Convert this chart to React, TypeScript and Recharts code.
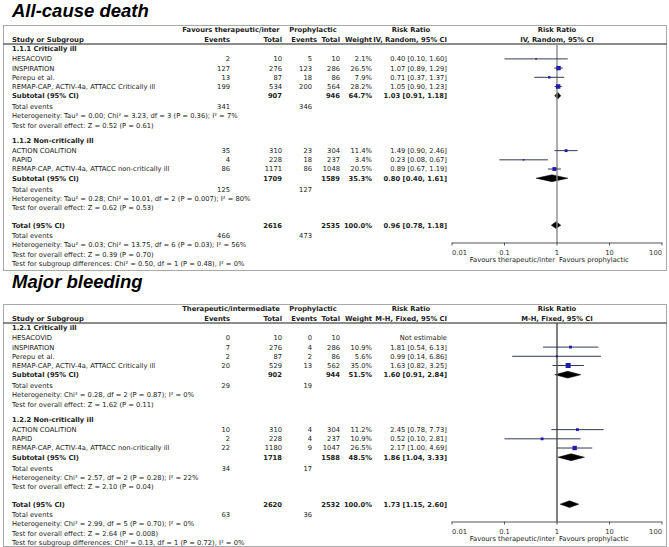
import React from "react";
import { ComposedChart, XAxis, YAxis, Scatter, ErrorBar, Area, ReferenceLine } from "recharts";

interface Study {
  name: string;
  e1: number;
  n1: number;
  e2: number;
  n2: number;
  weight: number | null;
  rr: number | null;
  lo: number | null;
  hi: number | null;
}

interface Pooled {
  n1: number;
  n2: number;
  weight: number;
  rr: number;
  lo: number;
  hi: number;
}

// ---- All-cause death ----
const deathGroupLabels = ["1.1.1 Critically ill", "1.1.2 Non-critically ill"];

const deathCritical: Study[] = [
  { name: "HESACOVID", e1: 2, n1: 10, e2: 5, n2: 10, weight: 2.1, rr: 0.4, lo: 0.1, hi: 1.6 },
  { name: "INSPIRATION", e1: 127, n1: 276, e2: 123, n2: 286, weight: 26.5, rr: 1.07, lo: 0.89, hi: 1.29 },
  { name: "Perepu et al.", e1: 13, n1: 87, e2: 18, n2: 86, weight: 7.9, rr: 0.71, lo: 0.37, hi: 1.37 },
  { name: "REMAP-CAP, ACTIV-4a, ATTACC Critically ill", e1: 199, n1: 534, e2: 200, n2: 564, weight: 28.2, rr: 1.05, lo: 0.9, hi: 1.23 },
];

const deathNonCritical: Study[] = [
  { name: "ACTION COALITION", e1: 35, n1: 310, e2: 23, n2: 304, weight: 11.4, rr: 1.49, lo: 0.9, hi: 2.46 },
  { name: "RAPID", e1: 4, n1: 228, e2: 18, n2: 237, weight: 3.4, rr: 0.23, lo: 0.08, hi: 0.67 },
  { name: "REMAP-CAP, ACTIV-4a, ATTACC non-critically ill", e1: 86, n1: 1171, e2: 86, n2: 1048, weight: 20.5, rr: 0.89, lo: 0.67, hi: 1.19 },
];

const deathSubtotals: Pooled[] = [
  { n1: 907, n2: 946, weight: 64.7, rr: 1.03, lo: 0.91, hi: 1.18 },
  { n1: 1709, n2: 1589, weight: 35.3, rr: 0.8, lo: 0.4, hi: 1.61 },
];

const deathGroupEvents = [
  [341, 346],
  [125, 127],
];

const deathGroupNotes = [
  ["Heterogeneity: Tau² = 0.00; Chi² = 3.23, df = 3 (P = 0.36); I² = 7%", "Test for overall effect: Z = 0.52 (P = 0.61)"],
  ["Heterogeneity: Tau² = 0.28; Chi² = 10.01, df = 2 (P = 0.007); I² = 80%", "Test for overall effect: Z = 0.62 (P = 0.53)"],
];

const deathTotal: Pooled = { n1: 2616, n2: 2535, weight: 100, rr: 0.96, lo: 0.78, hi: 1.18 };
const deathTotalEvents = [466, 473];
const deathTotalNotes = [
  "Heterogeneity: Tau² = 0.03; Chi² = 13.75, df = 6 (P = 0.03); I² = 56%",
  "Test for overall effect: Z = 0.39 (P = 0.70)",
  "Test for subgroup differences: Chi² = 0.50, df = 1 (P = 0.48), I² = 0%",
];

// ---- Major bleeding ----
const bleedGroupLabels = ["1.2.1 Critically ill", "1.2.2 Non-critically ill"];

const bleedCritical: Study[] = [
  { name: "HESACOVID", e1: 0, n1: 10, e2: 0, n2: 10, weight: null, rr: null, lo: null, hi: null },
  { name: "INSPIRATION", e1: 7, n1: 276, e2: 4, n2: 286, weight: 10.9, rr: 1.81, lo: 0.54, hi: 6.13 },
  { name: "Perepu et al.", e1: 2, n1: 87, e2: 2, n2: 86, weight: 5.6, rr: 0.99, lo: 0.14, hi: 6.86 },
  { name: "REMAP-CAP, ACTIV-4a, ATTACC Critically ill", e1: 20, n1: 529, e2: 13, n2: 562, weight: 35.0, rr: 1.63, lo: 0.82, hi: 3.25 },
];

const bleedNonCritical: Study[] = [
  { name: "ACTION COALITION", e1: 10, n1: 310, e2: 4, n2: 304, weight: 11.2, rr: 2.45, lo: 0.78, hi: 7.73 },
  { name: "RAPID", e1: 2, n1: 228, e2: 4, n2: 237, weight: 10.9, rr: 0.52, lo: 0.1, hi: 2.81 },
  { name: "REMAP-CAP, ACTIV-4a, ATTACC non-critically ill", e1: 22, n1: 1180, e2: 9, n2: 1047, weight: 26.5, rr: 2.17, lo: 1.0, hi: 4.69 },
];

const bleedSubtotals: Pooled[] = [
  { n1: 902, n2: 944, weight: 51.5, rr: 1.6, lo: 0.91, hi: 2.84 },
  { n1: 1718, n2: 1588, weight: 48.5, rr: 1.86, lo: 1.04, hi: 3.33 },
];

const bleedGroupEvents = [
  [29, 19],
  [34, 17],
];

const bleedGroupNotes = [
  ["Heterogeneity: Chi² = 0.28, df = 2 (P = 0.87); I² = 0%", "Test for overall effect: Z = 1.62 (P = 0.11)"],
  ["Heterogeneity: Chi² = 2.57, df = 2 (P = 0.28); I² = 22%", "Test for overall effect: Z = 2.10 (P = 0.04)"],
];

const bleedTotal: Pooled = { n1: 2620, n2: 2532, weight: 100, rr: 1.73, lo: 1.15, hi: 2.6 };
const bleedTotalEvents = [63, 36];
const bleedTotalNotes = [
  "Heterogeneity: Chi² = 2.99, df = 5 (P = 0.70); I² = 0%",
  "Test for overall effect: Z = 2.64 (P = 0.008)",
  "Test for subgroup differences: Chi² = 0.13, df = 1 (P = 0.72), I² = 0%",
];

const axisTicks = [0.01, 0.1, 1, 10, 100];

// ---- layout ----
const FONT = '"DejaVu Sans", Verdana, sans-serif';
const TITLE_FONT = '"Liberation Sans", Arial, sans-serif';
const FS = 6.75;
const W = 669;
const H = 272;
const PLOT_TOP = 44;
const PLOT_BOTTOM = 243;
const ROW = 9.2;
const COL = { name: 12, e1: 230, n1: 282, e2: 312, n2: 340, w: 372, rr: 447 };

type Line =
  | { kind: "group"; u: number; label: string }
  | { kind: "study"; u: number; s: Study }
  | { kind: "pooled"; u: number; label: string; p: Pooled }
  | { kind: "events"; u: number; ev: number[] }
  | { kind: "note"; u: number; text: string };

interface PanelSpec {
  expLabel: string;
  method: string;
  lineColor: string;
  boxHeight: number;
  groupLabels: string[];
  groups: Study[][];
  subtotals: Pooled[];
  groupEvents: number[][];
  groupNotes: string[][];
  total: Pooled;
  totalEvents: number[];
  totalNotes: string[];
}

function buildLines(p: PanelSpec): Line[] {
  const out: Line[] = [];
  let u = 0.55;
  p.groups.forEach((studies, gi) => {
    if (gi > 0) u += 1.7;
    out.push({ kind: "group", u, label: p.groupLabels[gi] });
    u += 1.07;
    studies.forEach((s, si) => {
      if (si > 0) u += 1;
      out.push({ kind: "study", u, s });
    });
    u += 1;
    out.push({ kind: "pooled", u, label: "Subtotal (95% CI)", p: p.subtotals[gi] });
    u += 1.2;
    out.push({ kind: "events", u, ev: p.groupEvents[gi] });
    p.groupNotes[gi].forEach((text) => {
      u += 1;
      out.push({ kind: "note", u, text });
    });
  });
  u += 1.9;
  out.push({ kind: "pooled", u, label: "Total (95% CI)", p: p.total });
  u += 1.15;
  out.push({ kind: "events", u, ev: p.totalEvents });
  p.totalNotes.forEach((text) => {
    u += 1;
    out.push({ kind: "note", u, text });
  });
  return out;
}

const py = (u: number) => PLOT_TOP + u * ROW;
const fmtRR = (r: number, lo: number, hi: number) => `${r.toFixed(2)} [${lo.toFixed(2)}, ${hi.toFixed(2)}]`;

const AxisTick = (props: any) => {
  const { x, y, payload, index } = props;
  const anchor = index === 0 ? "start" : index === axisTicks.length - 1 ? "end" : "middle";
  return (
    <g>
      <line x1={x} x2={x} y1={y - 2.5} y2={y + 0.5} stroke="#555" />
      <text x={x} y={y + 9.5} textAnchor={anchor} fontSize={FS} fill="#333" fontFamily={FONT}>
        {payload.value}
      </text>
    </g>
  );
};

const StudySquare = (props: any) => {
  const { cx, cy, payload } = props;
  const side = Math.max(1.6, 0.85 * Math.sqrt(payload.weight));
  return <rect x={cx - side / 2} y={cy - side / 2} width={side} height={side} fill="#1c1cb0" />;
};

function TableText({ spec, lines }: { spec: PanelSpec; lines: Line[] }) {
  const t = (x: number, u: number, s: string | number, anchor = "start", bold = false, key?: string) => (
    <text key={key} x={x} y={py(u) + 2.4} textAnchor={anchor} fontWeight={bold ? "bold" : "normal"}>
      {s}
    </text>
  );
  return (
    <svg width={W} height={H} style={{ position: "absolute", left: 0, top: 0 }} fontFamily={FONT} fontSize={FS} fill="#222">
      <rect x={3.5} y={25.5} width={663} height={spec.boxHeight} fill="none" stroke="#aaa" />
      <line x1={3} x2={667} y1={PLOT_TOP} y2={PLOT_TOP} stroke="#666" strokeWidth={1.3} />
      <g fontWeight="bold">
        <text x={231} y={32.4} textAnchor="middle">{spec.expLabel}</text>
        <text x={313} y={32.4} textAnchor="middle">Prophylactic</text>
        <text x={411} y={32.4} textAnchor="middle">Risk Ratio</text>
        <text x={557} y={32.4} textAnchor="middle">Risk Ratio</text>
        <text x={COL.name} y={42.4}>Study or Subgroup</text>
        <text x={COL.e1} y={42.4} textAnchor="end">Events</text>
        <text x={COL.n1} y={42.4} textAnchor="end">Total</text>
        <text x={317} y={42.4} textAnchor="end">Events</text>
        <text x={COL.n2} y={42.4} textAnchor="end">Total</text>
        <text x={COL.w} y={42.4} textAnchor="end">Weight</text>
        <text x={COL.rr} y={42.4} textAnchor="end">{spec.method}</text>
        <text x={557} y={42.4} textAnchor="middle">{spec.method}</text>
      </g>
      {lines.map((l, i) => {
        if (l.kind === "group") return t(COL.name, l.u, l.label, "start", true, `g${i}`);
        if (l.kind === "note") return t(COL.name, l.u, l.text, "start", false, `n${i}`);
        if (l.kind === "events")
          return (
            <g key={`e${i}`}>
              {t(COL.name, l.u, "Total events")}
              {t(COL.e1, l.u, l.ev[0], "end")}
              {t(COL.e2, l.u, l.ev[1], "end")}
            </g>
          );
        if (l.kind === "pooled")
          return (
            <g key={`p${i}`}>
              {t(COL.name, l.u, l.label, "start", true)}
              {t(COL.n1, l.u, l.p.n1, "end", true)}
              {t(COL.n2, l.u, l.p.n2, "end", true)}
              {t(COL.w, l.u, `${l.p.weight.toFixed(1)}%`, "end", true)}
              {t(COL.rr, l.u, fmtRR(l.p.rr, l.p.lo, l.p.hi), "end", true)}
            </g>
          );
        const s = l.s;
        return (
          <g key={`s${i}`}>
            {t(COL.name, l.u, s.name)}
            {t(COL.e1, l.u, s.e1, "end")}
            {t(COL.n1, l.u, s.n1, "end")}
            {t(COL.e2, l.u, s.e2, "end")}
            {t(COL.n2, l.u, s.n2, "end")}
            {s.weight != null && t(COL.w, l.u, `${s.weight.toFixed(1)}%`, "end")}
            {s.rr != null ? t(COL.rr, l.u, fmtRR(s.rr, s.lo!, s.hi!), "end") : t(COL.rr, l.u, "Not estimable", "end")}
          </g>
        );
      })}
      <text x={555} y={261.5} textAnchor="end">Favours therapeutic/inter</text>
      <text x={559} y={261.5}>Favours prophylactic</text>
    </svg>
  );
}

function ForestPanel({ spec, top }: { spec: PanelSpec; top: number }) {
  const lines = buildLines(spec);
  const points = lines
    .filter((l): l is Extract<Line, { kind: "study" }> => l.kind === "study" && l.s.rr != null)
    .map((l) => ({ x: l.s.rr!, y: l.u, weight: l.s.weight!, err: [l.s.rr! - l.s.lo!, l.s.hi! - l.s.rr!] }));
  const half = 3.4 / ROW;
  const diamonds = lines
    .filter((l): l is Extract<Line, { kind: "pooled" }> => l.kind === "pooled")
    .map((l) => [
      { x: l.p.lo, d: [l.u, l.u] },
      { x: l.p.rr, d: [l.u - half, l.u + half] },
      { x: l.p.hi, d: [l.u, l.u] },
    ]);
  return (
    <div style={{ position: "absolute", left: 0, top, width: W, height: H }}>
      <TableText spec={spec} lines={lines} />
      <div style={{ position: "absolute", left: 0, top: 0 }}>
        <ComposedChart width={W} height={H} margin={{ top: PLOT_TOP, right: 7, bottom: H - PLOT_BOTTOM - 20, left: 452 }}>
          <XAxis
            dataKey="x"
            type="number"
            scale="log"
            domain={[0.01, 100]}
            ticks={axisTicks}
            interval={0}
            allowDataOverflow
            height={20}
            axisLine={{ stroke: "#555" }}
            tickLine={false}
            tickSize={0}
            tick={<AxisTick />}
          />
          <YAxis dataKey="y" type="number" hide width={0} reversed domain={[0, (PLOT_BOTTOM - PLOT_TOP) / ROW]} allowDataOverflow />
          <ReferenceLine x={1} stroke={spec.lineColor} strokeWidth={1.4} />
          {diamonds.map((d, i) => (
            <Area
              key={i}
              data={d}
              dataKey="d"
              type="linear"
              stroke="#000"
              strokeWidth={0.5}
              fill="#000"
              fillOpacity={1}
              dot={false}
              activeDot={false}
              isAnimationActive={false}
            />
          ))}
          <Scatter data={points} shape={<StudySquare />} isAnimationActive={false}>
            <ErrorBar dataKey="err" direction="x" width={0} stroke="#333a55" strokeWidth={1} />
          </Scatter>
        </ComposedChart>
      </div>
    </div>
  );
}

const deathSpec: PanelSpec = {
  expLabel: "Favours therapeutic/inter",
  method: "IV, Random, 95% CI",
  lineColor: "#8a8a8a",
  boxHeight: 245,
  groupLabels: deathGroupLabels,
  groups: [deathCritical, deathNonCritical],
  subtotals: deathSubtotals,
  groupEvents: deathGroupEvents,
  groupNotes: deathGroupNotes,
  total: deathTotal,
  totalEvents: deathTotalEvents,
  totalNotes: deathTotalNotes,
};

const bleedSpec: PanelSpec = {
  expLabel: "Therapeutic/intermediate",
  method: "M-H, Fixed, 95% CI",
  lineColor: "#4a4a4a",
  boxHeight: 242,
  groupLabels: bleedGroupLabels,
  groups: [bleedCritical, bleedNonCritical],
  subtotals: bleedSubtotals,
  groupEvents: bleedGroupEvents,
  groupNotes: bleedGroupNotes,
  total: bleedTotal,
  totalEvents: bleedTotalEvents,
  totalNotes: bleedTotalNotes,
};

export default function App() {
  return (
    <div style={{ position: "absolute", left: 0, top: 0, width: W, height: 547, overflow: "hidden", background: "#fff" }}>
      <svg width={W} height={547} style={{ position: "absolute", left: 0, top: 0 }}>
        <text x={12} y={17} fontFamily={TITLE_FONT} fontSize={18.5} fontWeight="bold" fontStyle="italic" fill="#000">
          All-cause death
        </text>
        <text x={12} y={288} fontFamily={TITLE_FONT} fontSize={18.5} fontWeight="bold" fontStyle="italic" fill="#000">
          Major bleeding
        </text>
      </svg>
      <ForestPanel spec={deathSpec} top={0} />
      <ForestPanel spec={bleedSpec} top={279} />
    </div>
  );
}
